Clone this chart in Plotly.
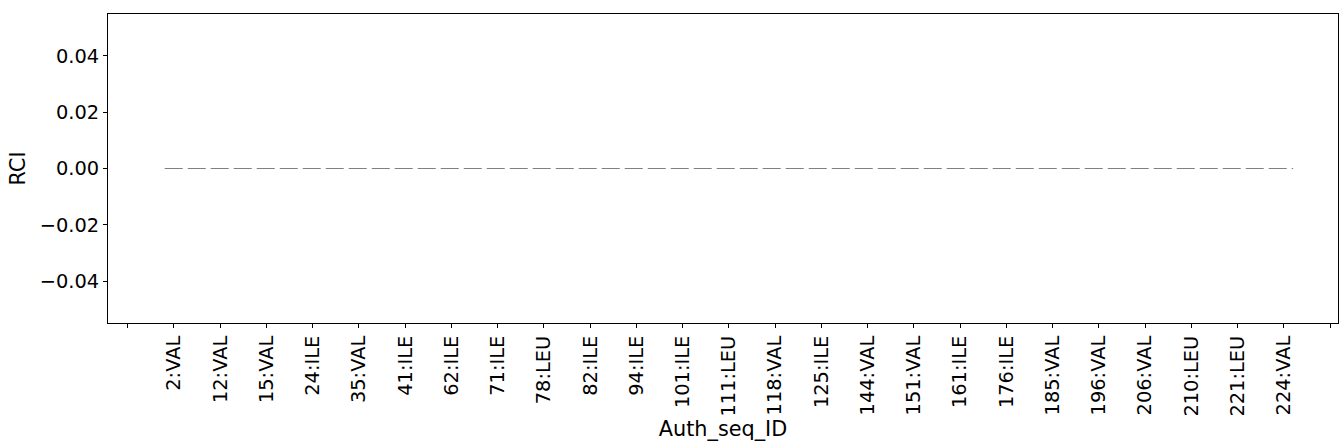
import plotly.graph_objects as go

residue_labels = ["2:VAL", "12:VAL", "15:VAL", "24:ILE", "35:VAL", "41:ILE", "62:ILE",
                  "71:ILE", "78:LEU", "82:ILE", "94:ILE", "101:ILE", "111:LEU", "118:VAL",
                  "125:ILE", "144:VAL", "151:VAL", "161:ILE", "176:ILE", "185:VAL",
                  "196:VAL", "206:VAL", "210:LEU", "221:LEU", "224:VAL"]
rci_values = [0.0] * len(residue_labels)
y_ticks = [-0.04, -0.02, 0.0, 0.02, 0.04]

n = len(residue_labels)
idx = list(range(n))
half_w = 0.2
line_x = [idx[0] - half_w] + idx + [idx[-1] + half_w]
line_y = [rci_values[0]] + rci_values + [rci_values[-1]]

tickvals = [-1] + idx + [n]
ticktext = [""] + residue_labels + [""]

tick_font = dict(family="DejaVu Sans", size=19.4, color="black")
title_font = dict(family="DejaVu Sans", size=20.8, color="black")

fig = go.Figure()
fig.add_trace(go.Scatter(x=line_x, y=line_y, mode="lines",
                         line=dict(color="#808080", width=1.2, dash="18px,5px"),
                         hoverinfo="skip", showlegend=False))

fig.update_layout(
    width=1339, height=447,
    margin=dict(l=108, r=1, t=14, b=124, autoexpand=False),
    paper_bgcolor="white", plot_bgcolor="white",
    font=tick_font, showlegend=False,
)
fig.update_xaxes(
    range=[-1.427, 25.17], tickmode="array", tickvals=tickvals, ticktext=ticktext,
    tickangle=-90, ticks="outside", ticklen=4, tickwidth=1, tickcolor="black",
    showline=True, mirror=True, linecolor="black", linewidth=1,
    showgrid=False, zeroline=False, tickfont=tick_font, automargin=False,
    title=dict(text="Auth_seq_ID", font=title_font, standoff=4),
)
fig.update_yaxes(
    range=[-0.0549, 0.0549], tickmode="array", tickvals=y_ticks, tickformat=".2f",
    ticks="outside", ticklen=4, tickwidth=1, tickcolor="black",
    showline=True, mirror=True, linecolor="black", linewidth=1,
    showgrid=False, zeroline=False, tickfont=tick_font, automargin=False,
    title=dict(text="RCI", font=title_font, standoff=8),
)
fig.write_html("out.html",
               config={"displayModeBar": False},
               post_script="document.body.style.margin='0';document.body.style.overflow='hidden';")
